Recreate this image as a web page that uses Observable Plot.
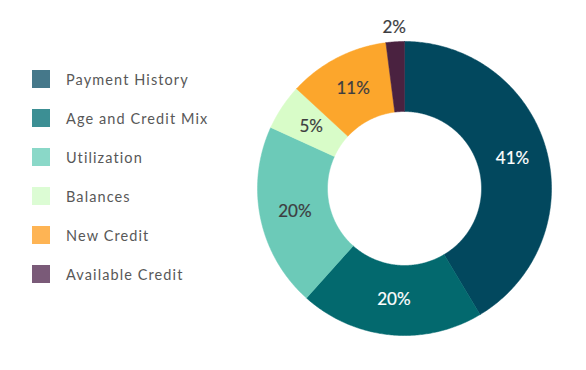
<!DOCTYPE html>
<html>
<head>
<meta charset="utf-8">
<script src="https://cdn.jsdelivr.net/npm/d3@7"></script>
<script src="https://cdn.jsdelivr.net/npm/@observablehq/plot@0.6"></script>
<style>
  html, body { margin: 0; padding: 0; background: #fff; }
  #wrap { position: relative; width: 586px; height: 370px; font-family: Lato, "Open Sans", sans-serif; }
  #legend { position: absolute; left: 32px; top: 70px; }
  .item { display: flex; align-items: center; height: 18px; margin-bottom: 21px; }
  .sw { width: 18px; height: 18px; margin-right: 16px; }
  .lab { font-size: 14.5px; letter-spacing: 1.1px; color: #585858; white-space: nowrap; }
  #chart { position: absolute; left: 0; top: 0; }
</style>
</head>
<body>
<div id="wrap">
  <div id="chart"></div>
  <div id="legend"></div>
</div>
<script>
const categories = ["Payment History", "Age and Credit Mix", "Utilization", "Balances", "New Credit", "Available Credit"];
const values = [41, 20, 20, 5, 11, 2];
const sliceColors = ["#02485e", "#03696e", "#6ccab8", "#d8fcc8", "#fca62c", "#4a2240"];
const legendColors = ["#45788a", "#3c8f94", "#8ad8c8", "#dcfcd4", "#feb454", "#7a5a78"];
const labelColors = ["#ffffff", "#ffffff", "#3d3d40", "#3d3d40", "#3d3d40", "#3d3d40"];

const innerRatio = 77 / 147;
const total = d3.sum(values);
let acc = 0;
const slices = values.map((v, i) => {
  const a0 = acc / total * 2 * Math.PI;
  acc += v;
  const a1 = acc / total * 2 * Math.PI;
  return {category: categories[i], value: v, a0, a1, i};
});

function polygon(s) {
  const pts = [];
  const n = Math.max(4, Math.ceil((s.a1 - s.a0) / 0.01));
  for (let k = 0; k <= n; k++) {
    const a = s.a0 + (s.a1 - s.a0) * k / n;
    pts.push({x: Math.sin(a), y: Math.cos(a)});
  }
  for (let k = n; k >= 0; k--) {
    const a = s.a0 + (s.a1 - s.a0) * k / n;
    pts.push({x: innerRatio * Math.sin(a), y: innerRatio * Math.cos(a)});
  }
  pts.push(pts[0]);
  return pts;
}

const labelPts = slices.map(s => {
  const mid = (s.a0 + s.a1) / 2;
  const r = s.value < 4 ? 1.1 : (1 + innerRatio) / 2;
  return {x: r * Math.sin(mid), y: r * Math.cos(mid), text: s.value + "%", color: labelColors[s.i]};
});

const cx = 404, cy = 188, R = 147;
const plot = Plot.plot({
  width: 586,
  height: 370,
  margin: 0,
  x: {domain: [-1, 1], range: [cx - R, cx + R], axis: null},
  y: {domain: [-1, 1], range: [cy + R, cy - R], axis: null},
  style: {fontFamily: "Lato, 'Open Sans', sans-serif", background: "transparent"},
  marks: [
    ...slices.map(s => Plot.line(polygon(s), {x: "x", y: "y", fill: sliceColors[s.i], stroke: sliceColors[s.i], strokeWidth: 0.5, curve: "linear"})),
    Plot.text(labelPts, {x: "x", y: "y", text: "text", fill: "color", stroke: "color", strokeWidth: 0.2, fontSize: 17, fontWeight: 400})
  ]
});
document.getElementById("chart").appendChild(plot);

const legend = document.getElementById("legend");
categories.forEach((c, i) => {
  const item = document.createElement("div");
  item.className = "item";
  item.innerHTML = `<div class="sw" style="background:${legendColors[i]}"></div><div class="lab">${c}</div>`;
  legend.appendChild(item);
});
</script>
</body>
</html>
